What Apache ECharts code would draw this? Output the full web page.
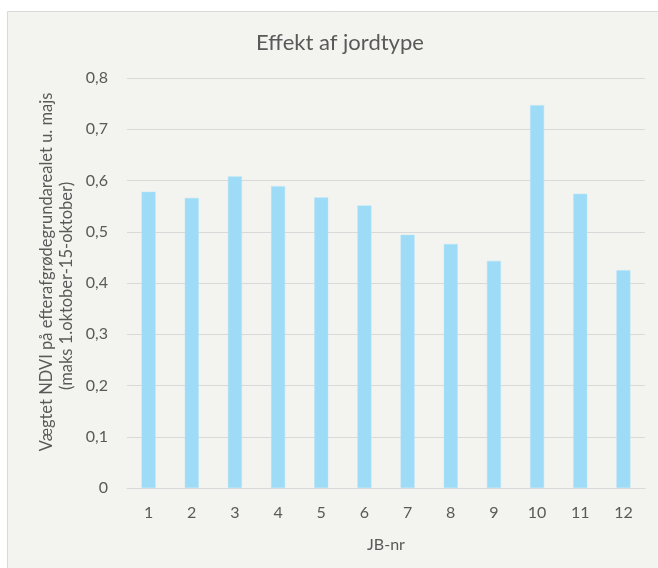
<!DOCTYPE html>
<html>
<head>
<meta charset="utf-8">
<script src="https://cdn.jsdelivr.net/npm/echarts@6/dist/echarts.min.js"></script>
<style>
  html, body { margin: 0; padding: 0; background: #ffffff; }
  #chart { width: 658px; height: 568px; }
</style>
</head>
<body>
<div id="chart"></div>
<script>
// JB-nr soil classes and weighted NDVI per class
const categories = ['1', '2', '3', '4', '5', '6', '7', '8', '9', '10', '11', '12'];
const ndviValues = [0.578, 0.566, 0.608, 0.589, 0.567, 0.551, 0.494, 0.476, 0.443, 0.747, 0.574, 0.425];
const yTicks = { min: 0, max: 0.8, interval: 0.1 };

const titleText = 'Effekt af jordtype';
const xName = 'JB-nr';
const yNameLines = ['Vægtet NDVI på efterafgrødegrundarealet u. majs', '(maks 1.oktober-15-oktober)'];

const FONT = 'Lato';
const TEXT = '#595959';
const GRID = '#d9d9d9';

const chart = echarts.init(document.getElementById('chart'), null, { renderer: 'canvas' });

// rotated two-line y-axis title, each line centred on its own anchor
const yTitleStyle = { fontFamily: FONT, fontSize: 16.5, fill: TEXT, align: 'center', verticalAlign: 'middle' };
const yTitle = [
  { type: 'text', x: 47, y: 272, rotation: Math.PI / 2, silent: true, style: Object.assign({ text: yNameLines[0] }, yTitleStyle) },
  { type: 'text', x: 67, y: 286, rotation: Math.PI / 2, silent: true, style: Object.assign({ text: yNameLines[1] }, yTitleStyle) }
];

chart.setOption({
  backgroundColor: '#ffffff',
  animation: false,
  graphic: [{
    type: 'rect',
    z: -10,
    silent: true,
    shape: { x: 7.5, y: 11.5, width: 700, height: 600 },
    style: { fill: '#f3f3ef', stroke: '#d9d9d9', lineWidth: 1 }
  }].concat(yTitle),
  title: {
    text: titleText,
    left: 335,
    textAlign: 'center',
    top: 27,
    textStyle: { fontFamily: FONT, fontSize: 22, fontWeight: 'normal', color: TEXT }
  },
  grid: { left: 127, right: 13, top: 78, bottom: 80, containLabel: false },
  xAxis: {
    type: 'category',
    data: categories,
    name: xName,
    nameLocation: 'middle',
    nameGap: 49,
    nameTextStyle: { fontFamily: FONT, fontSize: 16, color: TEXT },
    axisLine: { show: true, lineStyle: { color: GRID, width: 1 } },
    axisTick: { show: false },
    axisLabel: { fontFamily: FONT, fontSize: 16, color: TEXT, margin: 17 }
  },
  yAxis: {
    type: 'value',
    min: yTicks.min,
    max: yTicks.max,
    interval: yTicks.interval,
    axisLine: { show: false },
    axisTick: { show: false },
    splitLine: { show: true, lineStyle: { color: GRID, width: 1 } },
    axisLabel: {
      fontFamily: FONT, fontSize: 16, color: TEXT, margin: 19,
      formatter: v => (Math.round(v * 10) / 10).toString().replace('.', ',')
    }
  },
  series: [{
    type: 'bar',
    data: ndviValues,
    barWidth: 14,
    itemStyle: { color: '#9ddbf6', borderColor: '#b4e4f8', borderWidth: 0.5 }
  }]
});
</script>
</body>
</html>
